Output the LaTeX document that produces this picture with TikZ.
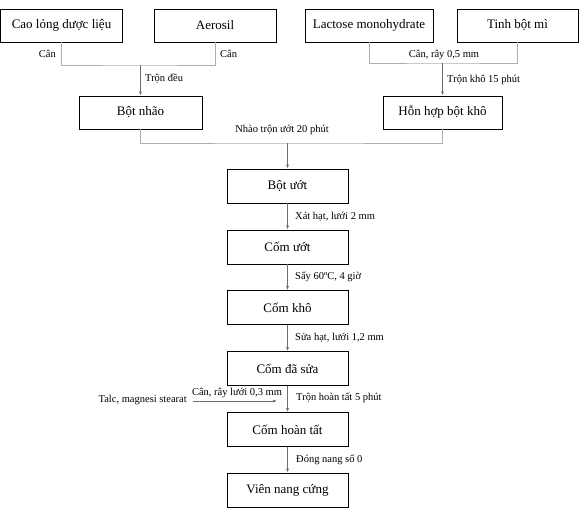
\documentclass[tikz,border=0pt]{standalone}
\usepackage{fontspec}
\setmainfont{Liberation Serif}
\usetikzlibrary{arrows.meta}
\definecolor{lineg}{RGB}{175,175,175}
\definecolor{arrg}{RGB}{110,110,110}
\begin{document}
\begin{tikzpicture}[x=1pt,y=-1pt,
  box/.style={draw=black,line width=0.9pt,minimum height=33pt,inner sep=0pt,font=\fontsize{13}{15}\selectfont,fill=white},
  lbl/.style={font=\fontsize{10.5}{12}\selectfont,inner sep=1pt},
  gl/.style={draw=lineg,line width=0.8pt},
  arr/.style={draw=arrg,line width=0.7pt,-{Latex[length=4pt,width=3pt]}}]
\useasboundingbox[fill=white] (0,0) rectangle (585,514);
% top boxes
\node[box,minimum width=122pt] (cao) at (61.5,25.5) {Cao lỏng dược liệu};
\node[box,minimum width=122pt] (aero) at (215,25.5) {Aerosil};
\node[box,minimum width=128pt] (lact) at (369,25.5) {Lactose monohydrate};
\node[box,minimum width=121pt] (tinh) at (517.5,25.5) {Tinh bột mì};
% second row
\node[box,minimum width=123pt] (nhao) at (140.5,112.5) {Bột nhão};
\node[box,minimum width=119pt] (hon) at (442.5,112.5) {Hỗn hợp bột khô};
% main column
\node[box,minimum width=121pt,minimum height=34pt] (but) at (287.5,186) {Bột ướt};
\node[box,minimum width=121pt,minimum height=34pt] (cut) at (287.5,247) {Cốm ướt};
\node[box,minimum width=121pt,minimum height=34pt] (ckh) at (287.5,307.5) {Cốm khô};
\node[box,minimum width=121pt,minimum height=34pt] (csu) at (287.5,368.5) {Cốm đã sửa};
\node[box,minimum width=121pt,minimum height=34pt] (cht) at (287.5,429.5) {Cốm hoàn tất};
\node[box,minimum width=121pt,minimum height=34pt] (vnc) at (287.5,490) {Viên nang cứng};
% junction coordinates
\coordinate (j1) at (140.5,65);
\coordinate (j2) at (442.5,63);
\coordinate (j3) at (287.5,143);
\coordinate (t1) at (193,401);
\coordinate (t2) at (277,401);
% connectors top-left
\draw[gl] (cao.south) |- (j1) -| (aero.south);
\draw[arr] (j1) -- (nhao.north);
% connectors top-right
\draw[gl] (lact.south) |- (j2) -| (tinh.south);
\draw[arr] (j2) -- (hon.north);
% merge
\draw[gl] (nhao.south) |- (j3) -| (hon.south);
\draw[arr] (j3) -- (but.north);
% main arrows
\draw[arr] (but) -- (cut);
\draw[arr] (cut) -- (ckh);
\draw[arr] (ckh) -- (csu);
\draw[arr] (csu) -- (cht);
\draw[arr] (cht) -- (vnc);
\draw[arr] (t1) -- (t2);
% labels
\node[lbl,anchor=east] (l1) at (57,54) {Cân};
\node[lbl,anchor=west] (l2) at (219,54) {Cân};
\node[lbl,anchor=west] (l3) at (144,79) {Trộn đều};
\node[lbl] (l4) at (444,54.5) {Cân, rây 0,5 mm};
\node[lbl,anchor=west] (l5) at (446,80) {Trộn khô 15 phút};
\node[lbl] (l6) at (282,130) {Nhào trộn ướt 20 phút};
\node[lbl,anchor=west] (l7) at (294,217) {Xát hạt, lưới 2 mm};
\node[lbl,anchor=west] (l8) at (294,277) {Sấy 60ºC, 4 giờ};
\node[lbl,anchor=west] (l9) at (294,338) {Sửa hạt, lưới 1,2 mm};
\node[lbl,anchor=west] (l10) at (295,398) {Trộn hoàn tất 5 phút};
\node[lbl,anchor=west] (l11) at (295,460) {Đóng nang số 0};
\node[lbl,anchor=east] (l12) at (188,400) {Talc, magnesi stearat};
\node[lbl] (l13) at (237,392.5) {Cân, rây lưới 0,3 mm};
\end{tikzpicture}
\end{document}
